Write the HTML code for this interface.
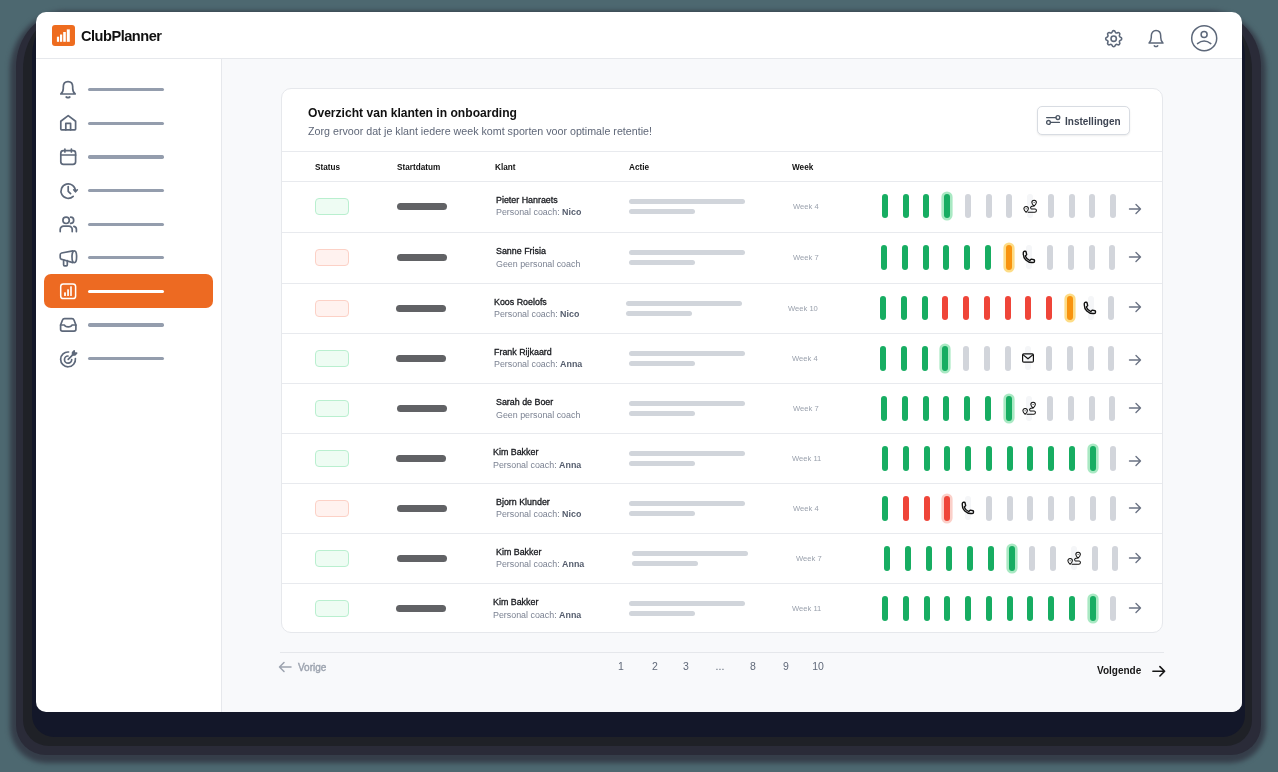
<!DOCTYPE html>
<html><head><meta charset="utf-8"><style>
*{margin:0;padding:0;box-sizing:border-box}
html,body{width:1278px;height:772px;overflow:hidden;background:#4d6870;font-family:"Liberation Sans",sans-serif}
.t{will-change:transform}
.abs{position:absolute}
.t{position:absolute;white-space:nowrap;line-height:1}
svg{position:absolute;overflow:visible}
.bar{position:absolute;width:6px;height:24.6px;border-radius:3px}
.g{background:#17ad62}.r{background:#ef4539}.o{background:#f8930f}.n{background:#d2d5db}
.f{background:#f5f6f8}
.hg{box-shadow:0 0 0 2.6px #a9e9c3}.ho{box-shadow:0 0 0 2.6px #fddc86}.hr{box-shadow:0 0 0 2.6px #fbd0c9}
</style></head><body>

<div class="abs" style="left:10px;top:11px;width:1256px;height:752px;border-radius:56px 56px 36px 36px/60px 60px 36px 36px;background:#353d49;filter:blur(2.5px)"></div>
<div class="abs" style="left:15.5px;top:12px;width:1245.5px;height:743px;border-radius:50px 50px 30px 30px/55px 55px 30px 30px;background:#2a2b38"></div>
<div class="abs" style="left:22.5px;top:14px;width:1229.5px;height:732px;border-radius:45px 45px 26px 26px/55px 55px 26px 26px;background:#1f2127"></div>
<div class="abs" style="left:32px;top:16px;width:1213px;height:721px;border-radius:30px 30px 22px 22px/40px 40px 22px 22px;background:#131729"></div>
<div class="abs" style="left:36px;top:12px;width:1206px;height:700px;border-radius:10px;background:#fff;overflow:hidden">
<div class="abs" style="left:186px;top:47px;width:1020px;height:653px;background:#f8f9fb"></div>
<div class="abs" style="left:0;top:46px;width:1206px;height:1px;background:#e6e8ec"></div>
<div class="abs" style="left:185px;top:47px;width:1px;height:653px;background:#e6e8ec"></div>
</div>
<div class="abs" style="left:52px;top:25px;width:23px;height:21px;border-radius:3px;background:#ee6c1f"></div>
<svg style="left:52px;top:25px" width="23" height="21" viewBox="0 0 23 21"><g fill="#fff"><rect x="4.9" y="11.7" width="2.2" height="5.1"/><rect x="8" y="9.5" width="2.2" height="7.3"/><rect x="11.2" y="7" width="2.6" height="9.8"/><rect x="14.8" y="4.4" width="3" height="12.4"/></g></svg>
<div class="t" style="left:81px;top:28.5px;font-size:14.6px;letter-spacing:-0.5px;font-weight:700;color:#111">ClubPlanner</div>
<svg style="left:1103.3px;top:28.3px" width="21.4" height="21.4" viewBox="0 0 24 24" fill="none" stroke="#5d687a" stroke-width="1.5" stroke-linecap="round" stroke-linejoin="round"><path d="M10.325 4.317c.426-1.756 2.924-1.756 3.35 0a1.724 1.724 0 002.573 1.066c1.543-.94 3.31.826 2.37 2.37a1.724 1.724 0 001.065 2.572c1.756.426 1.756 2.924 0 3.35a1.724 1.724 0 00-1.066 2.573c.94 1.543-.826 3.31-2.37 2.37a1.724 1.724 0 00-2.572 1.065c-.426 1.756-2.924 1.756-3.35 0a1.724 1.724 0 00-2.573-1.066c-1.543.94-3.31-.826-2.37-2.37a1.724 1.724 0 00-1.065-2.572c-1.756-.426-1.756-2.924 0-3.35a1.724 1.724 0 001.066-2.573c-.94-1.543.826-3.31 2.37-2.37.996.608 2.296.07 2.572-1.065z" stroke-width="1.8"/><circle cx="12" cy="12" r="3" stroke-width="1.8"/></svg>
<svg style="left:1146px;top:29px" width="20" height="20" viewBox="0 0 20 20" fill="none" stroke="#5d687a" stroke-width="1.5" stroke-linecap="round" stroke-linejoin="round"><path d="M3 14 C4.8 12.6 5.3 10.8 5.3 8.3 V6.8 C5.3 3.6 7.3 1.5 10 1.5 C12.7 1.5 14.7 3.6 14.7 6.8 V8.3 C14.7 10.8 15.2 12.6 17 14 Z"/><path d="M8.3 16.8 Q10 18.2 11.7 16.8"/></svg>
<svg style="left:1190px;top:24px" width="28" height="28" viewBox="0 0 28 28" fill="none" stroke="#5d687a" stroke-width="1.5" stroke-linecap="round" stroke-linejoin="round"><circle cx="14.2" cy="14.2" r="12.5"/><circle cx="14.1" cy="10.6" r="3"/><path d="M7.5 19.6 Q14.1 14.6 20.8 19.6"/></svg>
<div class="abs" style="left:88px;top:88.1px;width:76px;height:3.4px;border-radius:1.7px;background:#949dad"></div>
<div class="abs" style="left:88px;top:121.7px;width:76px;height:3.4px;border-radius:1.7px;background:#949dad"></div>
<div class="abs" style="left:88px;top:155.3px;width:76px;height:3.4px;border-radius:1.7px;background:#949dad"></div>
<div class="abs" style="left:88px;top:188.9px;width:76px;height:3.4px;border-radius:1.7px;background:#949dad"></div>
<div class="abs" style="left:88px;top:222.5px;width:76px;height:3.4px;border-radius:1.7px;background:#949dad"></div>
<div class="abs" style="left:88px;top:256.1px;width:76px;height:3.4px;border-radius:1.7px;background:#949dad"></div>
<div class="abs" style="left:43.5px;top:274px;width:169.5px;height:34px;border-radius:7px;background:#ed6a22"></div>
<div class="abs" style="left:88px;top:289.7px;width:76px;height:3.4px;border-radius:1.7px;background:#fff"></div>
<div class="abs" style="left:88px;top:323.3px;width:76px;height:3.4px;border-radius:1.7px;background:#949dad"></div>
<div class="abs" style="left:88px;top:356.9px;width:76px;height:3.4px;border-radius:1.7px;background:#949dad"></div>
<svg style="left:58px;top:79.7px" width="20" height="20" viewBox="0 0 20 20" fill="none" stroke="#5d687a" stroke-width="1.7" stroke-linecap="round" stroke-linejoin="round"><path d="M2.8 14 C4.8 12.5 5.3 10.7 5.3 8.2 V6.8 C5.3 3.5 7.3 1.6 10 1.6 C12.7 1.6 14.7 3.5 14.7 6.8 V8.2 C14.7 10.7 15.2 12.5 17.2 14 Z"/><path d="M8.2 17 Q10 18.4 11.8 17"/></svg>
<svg style="left:58px;top:113.3px" width="20" height="20" viewBox="0 0 20 20" fill="none" stroke="#5d687a" stroke-width="1.7" stroke-linecap="round" stroke-linejoin="round"><path d="M2.8 16 V8.2 L10.2 2.6 L17.6 8.2 V16 Q17.6 16.8 16.8 16.8 H3.6 Q2.8 16.8 2.8 16 Z"/><path d="M7.8 16.8 V10.4 H12.6 V16.8"/></svg>
<svg style="left:58px;top:146.9px" width="20" height="20" viewBox="0 0 20 20" fill="none" stroke="#5d687a" stroke-width="1.7" stroke-linecap="round" stroke-linejoin="round"><rect x="2.8" y="3.6" width="14.8" height="13.8" rx="2.6"/><path d="M6.9 2 V5 M13.4 2 V5 M2.8 8 H17.6"/></svg>
<svg style="left:58px;top:180.5px" width="20" height="20" viewBox="0 0 20 20" fill="none" stroke="#5d687a" stroke-width="1.7" stroke-linecap="round" stroke-linejoin="round"><path d="M15.2 15.3 A7.2 7.2 0 1 1 17.4 10.1"/><path d="M15.7 8.8 L17.5 10.8 L19.3 8.8"/><path d="M10.2 5.6 V10.3 L12.6 12.6"/></svg>
<svg style="left:58px;top:214.1px" width="20" height="20" viewBox="0 0 20 20" fill="none" stroke="#5d687a" stroke-width="1.7" stroke-linecap="round" stroke-linejoin="round"><circle cx="8.1" cy="6.3" r="3.2"/><path d="M12.6 3.2 A3.1 3.1 0 0 1 12.6 9.4"/><path d="M2.2 17.6 V15.6 A3.4 3.4 0 0 1 5.6 12.2 H10.8 A3.4 3.4 0 0 1 14.2 15.6 V17.6"/><path d="M15.9 12.4 A3 3 0 0 1 18.4 15.3 V17.6"/></svg>
<svg style="left:58px;top:247.7px" width="20" height="20" viewBox="0 0 20 20" fill="none" stroke="#5d687a" stroke-width="1.7" stroke-linecap="round" stroke-linejoin="round"><path d="M14.8 2.8 L3.6 5 Q2.2 5.3 2.2 6.8 V9.5 Q2.2 11 3.6 11.3 L14.8 14.6"/><ellipse cx="16.3" cy="8.7" rx="2.3" ry="5.9"/><path d="M5.6 11.8 V16.8 Q5.6 17.8 6.6 17.8 H8.3 Q9.3 17.8 9.3 16.8 V12.5"/></svg>
<svg style="left:58px;top:281px" width="20" height="20" viewBox="0 0 20 20" fill="none" stroke="#fff" stroke-width="1.5"><rect x="2.7" y="2.9" width="14.9" height="14.6" rx="2.6"/></svg>
<svg style="left:58px;top:281px" width="20" height="20" viewBox="0 0 20 20" fill="#fff"><rect x="6.1" y="11.3" width="1.8" height="3.6" rx=".5"/><rect x="9.2" y="8.3" width="1.7" height="6.6" rx=".5"/><rect x="12.2" y="5.3" width="1.6" height="9.6" rx=".5"/></svg>
<svg style="left:58px;top:314.9px" width="20" height="20" viewBox="0 0 20 20" fill="none" stroke="#5d687a" stroke-width="1.7" stroke-linecap="round" stroke-linejoin="round"><path d="M2.6 10 L4.4 5.2 Q5 3.7 6.5 3.7 H14 Q15.5 3.7 16.1 5.2 L17.9 10 V14.3 Q17.9 16.2 16 16.2 H4.5 Q2.6 16.2 2.6 14.3 Z"/><path d="M2.6 10 H6.4 Q7 11.8 10.2 11.8 Q13.4 11.8 14 10 H17.9"/></svg>
<svg style="left:58px;top:348.5px" width="20" height="20" viewBox="0 0 20 20" fill="none" stroke="#5d687a" stroke-width="1.7" stroke-linecap="round" stroke-linejoin="round"><path d="M17.4 9.6 A7.4 7.4 0 1 1 10.6 3"/><path d="M13.7 10.6 A3.6 3.6 0 1 1 10 7"/><path d="M10.2 10.4 L16.2 4.4"/><path d="M14.6 3.6 V5.9 H16.9 L18.6 4.2 H16.2 V1.9 Z"/></svg>
<div class="abs" style="left:281px;top:88px;width:882px;height:545px;border:1px solid #e6e8ec;border-radius:10px;background:#fff"></div>
<div class="t" style="left:308px;top:107px;font-size:12.1px;font-weight:700;color:#111">Overzicht van klanten in onboarding</div>
<div class="t" style="left:308px;top:126.2px;font-size:10.7px;color:#5f6778">Zorg ervoor dat je klant iedere week komt sporten voor optimale retentie!</div>
<div class="abs" style="left:1037px;top:106px;width:93px;height:28.5px;border:1px solid #d8dce2;border-radius:5px;background:#fff;box-shadow:0 1px 2px rgba(0,0,0,.08)"></div>
<svg style="left:1045px;top:112.2px" width="16" height="16" viewBox="0 0 16 16" fill="none" stroke="#4b5563" stroke-width="1.3" stroke-linecap="round"><path d="M1.6 5.6 H10.8"/><circle cx="12.9" cy="5.6" r="1.9"/><circle cx="3.5" cy="10.4" r="1.9"/><path d="M5.4 10.4 H14.4"/></svg>
<div class="t" style="left:1065px;top:116.6px;font-size:10px;font-weight:700;color:#3d4452">Instellingen</div>
<div class="abs" style="left:282px;top:151px;width:880px;height:1px;background:#e8eaee"></div>
<div class="abs" style="left:282px;top:181px;width:880px;height:1px;background:#e8eaee"></div>
<div class="abs" style="left:282px;top:232px;width:880px;height:1px;background:#e8eaee"></div>
<div class="abs" style="left:282px;top:283px;width:880px;height:1px;background:#e8eaee"></div>
<div class="abs" style="left:282px;top:333px;width:880px;height:1px;background:#e8eaee"></div>
<div class="abs" style="left:282px;top:383px;width:880px;height:1px;background:#e8eaee"></div>
<div class="abs" style="left:282px;top:433px;width:880px;height:1px;background:#e8eaee"></div>
<div class="abs" style="left:282px;top:483px;width:880px;height:1px;background:#e8eaee"></div>
<div class="abs" style="left:282px;top:533px;width:880px;height:1px;background:#e8eaee"></div>
<div class="abs" style="left:282px;top:583px;width:880px;height:1px;background:#e8eaee"></div>
<div class="t" style="left:315px;top:164px;font-size:8.2px;font-weight:700;color:#111">Status</div>
<div class="t" style="left:397px;top:164px;font-size:8.2px;font-weight:700;color:#111">Startdatum</div>
<div class="t" style="left:495px;top:164px;font-size:8.2px;font-weight:700;color:#111">Klant</div>
<div class="t" style="left:629px;top:164px;font-size:8.2px;font-weight:700;color:#111">Actie</div>
<div class="t" style="left:792px;top:164px;font-size:8.2px;font-weight:700;color:#111">Week</div>
<div class="abs" style="left:315px;top:197.5px;width:34px;height:17px;border-radius:4px;background:#eefcf3;border:1px solid #b9efcf"></div>
<div class="abs" style="left:397.0px;top:202.5px;width:50px;height:7px;border-radius:3.5px;background:#616265"></div>
<div class="t" style="left:495.5px;top:195.8px;font-size:8.9px;color:#16181d;-webkit-text-stroke:0.3px #16181d">Pieter Hanraets</div>
<div class="t" style="left:495.5px;top:208.1px;font-size:8.9px;color:#7b8292">Personal coach: <b style="color:#555d6d">Nico</b></div>
<div class="abs" style="left:629.0px;top:198.5px;width:116px;height:5px;border-radius:2.5px;background:#d1d5db"></div>
<div class="abs" style="left:629.0px;top:208.5px;width:66px;height:5px;border-radius:2.5px;background:#d1d5db"></div>
<div class="t" style="left:792.7px;top:202.5px;font-size:7.6px;color:#9aa1ad">Week 4</div>
<div class="bar g" style="left:881.8px;top:193.7px"></div>
<div class="bar g" style="left:902.5px;top:193.7px"></div>
<div class="bar g" style="left:923.3px;top:193.7px"></div>
<div class="bar g hg" style="left:944.0px;top:193.7px"></div>
<div class="bar n" style="left:964.8px;top:193.7px"></div>
<div class="bar n" style="left:985.5px;top:193.7px"></div>
<div class="bar n" style="left:1006.3px;top:193.7px"></div>
<div class="bar f" style="left:1027.0px;top:193.5px"></div>
<svg style="left:1022.1px;top:198.9px" width="15" height="15" viewBox="0 0 16 16" fill="none" stroke="#111" stroke-width="1.1" stroke-linecap="round" stroke-linejoin="round"><path d="M4.4 14.2 C2.6 12.5 2 11.5 2 10.4 A2.4 2.4 0 0 1 6.8 10.4 C6.8 11.5 6.2 12.5 4.4 14.2 Z"/><circle cx="4.4" cy="10.4" r=".55" fill="#111" stroke="none"/><path d="M12.9 7.5 C11.1 5.8 10.5 4.8 10.5 3.7 A2.4 2.4 0 0 1 15.3 3.7 C15.3 4.8 14.7 5.8 12.9 7.5 Z"/><circle cx="12.9" cy="3.7" r=".55" fill="#111" stroke="none"/><path d="M12.4 7.5 C9.6 7.7 8.4 8.8 9.6 10.2 Q10 10.6 10.9 10.6 H14 Q15.5 10.8 15.4 12.4 Q15.2 14.2 13.5 14.2 H6.5"/></svg>
<div class="bar n" style="left:1047.8px;top:193.7px"></div>
<div class="bar n" style="left:1068.5px;top:193.7px"></div>
<div class="bar n" style="left:1089.3px;top:193.7px"></div>
<div class="bar n" style="left:1110.0px;top:193.7px"></div>
<svg style="left:1128.0px;top:201.5px" width="14" height="14" viewBox="0 0 14 14" fill="none" stroke="#6b7384" stroke-width="1.4" stroke-linecap="round" stroke-linejoin="round"><path d="M1.5 7 H12.5 M8 2.5 L12.5 7 L8 11.5"/></svg>
<div class="abs" style="left:315px;top:248.9px;width:34px;height:17px;border-radius:4px;background:#fff2ef;border:1px solid #fcd1c6"></div>
<div class="abs" style="left:397.0px;top:253.9px;width:50px;height:7px;border-radius:3.5px;background:#616265"></div>
<div class="t" style="left:495.5px;top:247.2px;font-size:8.9px;color:#16181d;-webkit-text-stroke:0.3px #16181d">Sanne Frisia</div>
<div class="t" style="left:495.5px;top:259.5px;font-size:8.9px;color:#7b8292">Geen personal coach</div>
<div class="abs" style="left:629.0px;top:249.9px;width:116px;height:5px;border-radius:2.5px;background:#d1d5db"></div>
<div class="abs" style="left:629.0px;top:259.9px;width:66px;height:5px;border-radius:2.5px;background:#d1d5db"></div>
<div class="t" style="left:792.7px;top:253.9px;font-size:7.6px;color:#9aa1ad">Week 7</div>
<div class="bar g" style="left:881.0px;top:245.1px"></div>
<div class="bar g" style="left:901.8px;top:245.1px"></div>
<div class="bar g" style="left:922.5px;top:245.1px"></div>
<div class="bar g" style="left:943.2px;top:245.1px"></div>
<div class="bar g" style="left:964.0px;top:245.1px"></div>
<div class="bar g" style="left:984.8px;top:245.1px"></div>
<div class="bar o ho" style="left:1005.5px;top:245.1px"></div>
<div class="bar f" style="left:1026.2px;top:244.9px"></div>
<svg style="left:1021.9px;top:250.4px" width="13.8" height="13.8" viewBox="0 0 24 24" fill="none" stroke="#111" stroke-width="2.4" stroke-linejoin="round"><path d="M2.25 6.75c0 8.284 6.716 15 15 15h2.25a2.25 2.25 0 002.25-2.25v-1.372c0-.516-.351-.966-.852-1.091l-4.423-1.106c-.44-.11-.902.055-1.173.417l-.97 1.293c-.282.376-.769.542-1.21.38a12.035 12.035 0 01-7.143-7.143c-.162-.441.004-.928.38-1.21l1.293-.97c.363-.271.527-.734.417-1.173L6.963 3.102a1.125 1.125 0 00-1.091-.852H4.5A2.25 2.25 0 002.25 4.5v2.25z"/></svg>
<div class="bar n" style="left:1047.0px;top:245.1px"></div>
<div class="bar n" style="left:1067.8px;top:245.1px"></div>
<div class="bar n" style="left:1088.5px;top:245.1px"></div>
<div class="bar n" style="left:1109.2px;top:245.1px"></div>
<svg style="left:1127.5px;top:249.9px" width="14" height="14" viewBox="0 0 14 14" fill="none" stroke="#6b7384" stroke-width="1.4" stroke-linecap="round" stroke-linejoin="round"><path d="M1.5 7 H12.5 M8 2.5 L12.5 7 L8 11.5"/></svg>
<div class="abs" style="left:315px;top:299.7px;width:34px;height:17px;border-radius:4px;background:#fff2ef;border:1px solid #fcd1c6"></div>
<div class="abs" style="left:396.4px;top:304.7px;width:50px;height:7px;border-radius:3.5px;background:#616265"></div>
<div class="t" style="left:493.5px;top:298.0px;font-size:8.9px;color:#16181d;-webkit-text-stroke:0.3px #16181d">Koos Roelofs</div>
<div class="t" style="left:493.5px;top:310.3px;font-size:8.9px;color:#7b8292">Personal coach: <b style="color:#555d6d">Nico</b></div>
<div class="abs" style="left:625.8px;top:300.7px;width:116px;height:5px;border-radius:2.5px;background:#d1d5db"></div>
<div class="abs" style="left:625.8px;top:310.7px;width:66px;height:5px;border-radius:2.5px;background:#d1d5db"></div>
<div class="t" style="left:788.4px;top:304.7px;font-size:7.6px;color:#9aa1ad">Week 10</div>
<div class="bar g" style="left:880.0px;top:295.9px"></div>
<div class="bar g" style="left:900.8px;top:295.9px"></div>
<div class="bar g" style="left:921.5px;top:295.9px"></div>
<div class="bar r" style="left:942.2px;top:295.9px"></div>
<div class="bar r" style="left:963.0px;top:295.9px"></div>
<div class="bar r" style="left:983.8px;top:295.9px"></div>
<div class="bar r" style="left:1004.5px;top:295.9px"></div>
<div class="bar r" style="left:1025.2px;top:295.9px"></div>
<div class="bar r" style="left:1046.0px;top:295.9px"></div>
<div class="bar o ho" style="left:1066.8px;top:295.9px"></div>
<div class="bar f" style="left:1087.5px;top:295.7px"></div>
<svg style="left:1083.1px;top:301.2px" width="13.8" height="13.8" viewBox="0 0 24 24" fill="none" stroke="#111" stroke-width="2.4" stroke-linejoin="round"><path d="M2.25 6.75c0 8.284 6.716 15 15 15h2.25a2.25 2.25 0 002.25-2.25v-1.372c0-.516-.351-.966-.852-1.091l-4.423-1.106c-.44-.11-.902.055-1.173.417l-.97 1.293c-.282.376-.769.542-1.21.38a12.035 12.035 0 01-7.143-7.143c-.162-.441.004-.928.38-1.21l1.293-.97c.363-.271.527-.734.417-1.173L6.963 3.102a1.125 1.125 0 00-1.091-.852H4.5A2.25 2.25 0 002.25 4.5v2.25z"/></svg>
<div class="bar n" style="left:1108.2px;top:295.9px"></div>
<svg style="left:1127.5px;top:300.2px" width="14" height="14" viewBox="0 0 14 14" fill="none" stroke="#6b7384" stroke-width="1.4" stroke-linecap="round" stroke-linejoin="round"><path d="M1.5 7 H12.5 M8 2.5 L12.5 7 L8 11.5"/></svg>
<div class="abs" style="left:315px;top:349.8px;width:34px;height:17px;border-radius:4px;background:#eefcf3;border:1px solid #b9efcf"></div>
<div class="abs" style="left:396.0px;top:354.8px;width:50px;height:7px;border-radius:3.5px;background:#616265"></div>
<div class="t" style="left:493.5px;top:348.1px;font-size:8.9px;color:#16181d;-webkit-text-stroke:0.3px #16181d">Frank Rijkaard</div>
<div class="t" style="left:493.5px;top:360.4px;font-size:8.9px;color:#7b8292">Personal coach: <b style="color:#555d6d">Anna</b></div>
<div class="abs" style="left:629.0px;top:350.8px;width:116px;height:5px;border-radius:2.5px;background:#d1d5db"></div>
<div class="abs" style="left:629.0px;top:360.8px;width:66px;height:5px;border-radius:2.5px;background:#d1d5db"></div>
<div class="t" style="left:791.8px;top:354.8px;font-size:7.6px;color:#9aa1ad">Week 4</div>
<div class="bar g" style="left:880.0px;top:346.0px"></div>
<div class="bar g" style="left:900.8px;top:346.0px"></div>
<div class="bar g" style="left:921.5px;top:346.0px"></div>
<div class="bar g hg" style="left:942.2px;top:346.0px"></div>
<div class="bar n" style="left:963.0px;top:346.0px"></div>
<div class="bar n" style="left:983.8px;top:346.0px"></div>
<div class="bar n" style="left:1004.5px;top:346.0px"></div>
<div class="bar f" style="left:1025.2px;top:345.8px"></div>
<svg style="left:1021.2px;top:351.3px" width="14" height="14" viewBox="0 0 14 14" fill="none" stroke="#111" stroke-width="1.2" stroke-linejoin="round"><rect x="1.6" y="2.9" width="10.8" height="8.2" rx="1.2"/><path d="M1.9 3.6 L7 7.8 L12.1 3.6"/></svg>
<div class="bar n" style="left:1046.0px;top:346.0px"></div>
<div class="bar n" style="left:1066.8px;top:346.0px"></div>
<div class="bar n" style="left:1087.5px;top:346.0px"></div>
<div class="bar n" style="left:1108.2px;top:346.0px"></div>
<svg style="left:1127.5px;top:352.6px" width="14" height="14" viewBox="0 0 14 14" fill="none" stroke="#6b7384" stroke-width="1.4" stroke-linecap="round" stroke-linejoin="round"><path d="M1.5 7 H12.5 M8 2.5 L12.5 7 L8 11.5"/></svg>
<div class="abs" style="left:315px;top:400.0px;width:34px;height:17px;border-radius:4px;background:#eefcf3;border:1px solid #b9efcf"></div>
<div class="abs" style="left:397.4px;top:405.0px;width:50px;height:7px;border-radius:3.5px;background:#616265"></div>
<div class="t" style="left:495.5px;top:398.3px;font-size:8.9px;color:#16181d;-webkit-text-stroke:0.3px #16181d">Sarah de Boer</div>
<div class="t" style="left:495.5px;top:410.6px;font-size:8.9px;color:#7b8292">Geen personal coach</div>
<div class="abs" style="left:629.0px;top:401.0px;width:116px;height:5px;border-radius:2.5px;background:#d1d5db"></div>
<div class="abs" style="left:629.0px;top:411.0px;width:66px;height:5px;border-radius:2.5px;background:#d1d5db"></div>
<div class="t" style="left:792.6px;top:405.0px;font-size:7.6px;color:#9aa1ad">Week 7</div>
<div class="bar g" style="left:881.0px;top:396.2px"></div>
<div class="bar g" style="left:901.8px;top:396.2px"></div>
<div class="bar g" style="left:922.5px;top:396.2px"></div>
<div class="bar g" style="left:943.2px;top:396.2px"></div>
<div class="bar g" style="left:964.0px;top:396.2px"></div>
<div class="bar g" style="left:984.8px;top:396.2px"></div>
<div class="bar g hg" style="left:1005.5px;top:396.2px"></div>
<div class="bar f" style="left:1026.2px;top:396.0px"></div>
<svg style="left:1021.4px;top:401.4px" width="15" height="15" viewBox="0 0 16 16" fill="none" stroke="#111" stroke-width="1.1" stroke-linecap="round" stroke-linejoin="round"><path d="M4.4 14.2 C2.6 12.5 2 11.5 2 10.4 A2.4 2.4 0 0 1 6.8 10.4 C6.8 11.5 6.2 12.5 4.4 14.2 Z"/><circle cx="4.4" cy="10.4" r=".55" fill="#111" stroke="none"/><path d="M12.9 7.5 C11.1 5.8 10.5 4.8 10.5 3.7 A2.4 2.4 0 0 1 15.3 3.7 C15.3 4.8 14.7 5.8 12.9 7.5 Z"/><circle cx="12.9" cy="3.7" r=".55" fill="#111" stroke="none"/><path d="M12.4 7.5 C9.6 7.7 8.4 8.8 9.6 10.2 Q10 10.6 10.9 10.6 H14 Q15.5 10.8 15.4 12.4 Q15.2 14.2 13.5 14.2 H6.5"/></svg>
<div class="bar n" style="left:1047.0px;top:396.2px"></div>
<div class="bar n" style="left:1067.8px;top:396.2px"></div>
<div class="bar n" style="left:1088.5px;top:396.2px"></div>
<div class="bar n" style="left:1109.2px;top:396.2px"></div>
<svg style="left:1127.5px;top:400.8px" width="14" height="14" viewBox="0 0 14 14" fill="none" stroke="#6b7384" stroke-width="1.4" stroke-linecap="round" stroke-linejoin="round"><path d="M1.5 7 H12.5 M8 2.5 L12.5 7 L8 11.5"/></svg>
<div class="abs" style="left:315px;top:450.0px;width:34px;height:17px;border-radius:4px;background:#eefcf3;border:1px solid #b9efcf"></div>
<div class="abs" style="left:396.0px;top:455.0px;width:50px;height:7px;border-radius:3.5px;background:#616265"></div>
<div class="t" style="left:493.3px;top:448.3px;font-size:8.9px;color:#16181d;-webkit-text-stroke:0.3px #16181d">Kim Bakker</div>
<div class="t" style="left:493.3px;top:460.6px;font-size:8.9px;color:#7b8292">Personal coach: <b style="color:#555d6d">Anna</b></div>
<div class="abs" style="left:629.0px;top:451.0px;width:116px;height:5px;border-radius:2.5px;background:#d1d5db"></div>
<div class="abs" style="left:629.0px;top:461.0px;width:66px;height:5px;border-radius:2.5px;background:#d1d5db"></div>
<div class="t" style="left:791.8px;top:455.0px;font-size:7.6px;color:#9aa1ad">Week 11</div>
<div class="bar g" style="left:882.0px;top:446.2px"></div>
<div class="bar g" style="left:902.8px;top:446.2px"></div>
<div class="bar g" style="left:923.5px;top:446.2px"></div>
<div class="bar g" style="left:944.2px;top:446.2px"></div>
<div class="bar g" style="left:965.0px;top:446.2px"></div>
<div class="bar g" style="left:985.8px;top:446.2px"></div>
<div class="bar g" style="left:1006.5px;top:446.2px"></div>
<div class="bar g" style="left:1027.2px;top:446.2px"></div>
<div class="bar g" style="left:1048.0px;top:446.2px"></div>
<div class="bar g" style="left:1068.8px;top:446.2px"></div>
<div class="bar g hg" style="left:1089.5px;top:446.2px"></div>
<div class="bar n" style="left:1110.2px;top:446.2px"></div>
<svg style="left:1127.5px;top:453.5px" width="14" height="14" viewBox="0 0 14 14" fill="none" stroke="#6b7384" stroke-width="1.4" stroke-linecap="round" stroke-linejoin="round"><path d="M1.5 7 H12.5 M8 2.5 L12.5 7 L8 11.5"/></svg>
<div class="abs" style="left:315px;top:499.8px;width:34px;height:17px;border-radius:4px;background:#fff2ef;border:1px solid #fcd1c6"></div>
<div class="abs" style="left:397.4px;top:504.8px;width:50px;height:7px;border-radius:3.5px;background:#616265"></div>
<div class="t" style="left:495.5px;top:498.1px;font-size:8.9px;color:#16181d;-webkit-text-stroke:0.3px #16181d">Bjorn Klunder</div>
<div class="t" style="left:495.5px;top:510.4px;font-size:8.9px;color:#7b8292">Personal coach: <b style="color:#555d6d">Nico</b></div>
<div class="abs" style="left:629.0px;top:500.8px;width:116px;height:5px;border-radius:2.5px;background:#d1d5db"></div>
<div class="abs" style="left:629.0px;top:510.8px;width:66px;height:5px;border-radius:2.5px;background:#d1d5db"></div>
<div class="t" style="left:792.6px;top:504.8px;font-size:7.6px;color:#9aa1ad">Week 4</div>
<div class="bar g" style="left:882.0px;top:496.0px"></div>
<div class="bar r" style="left:902.8px;top:496.0px"></div>
<div class="bar r" style="left:923.5px;top:496.0px"></div>
<div class="bar r hr" style="left:944.2px;top:496.0px"></div>
<div class="bar f" style="left:965.0px;top:495.8px"></div>
<svg style="left:960.6px;top:501.3px" width="13.8" height="13.8" viewBox="0 0 24 24" fill="none" stroke="#111" stroke-width="2.4" stroke-linejoin="round"><path d="M2.25 6.75c0 8.284 6.716 15 15 15h2.25a2.25 2.25 0 002.25-2.25v-1.372c0-.516-.351-.966-.852-1.091l-4.423-1.106c-.44-.11-.902.055-1.173.417l-.97 1.293c-.282.376-.769.542-1.21.38a12.035 12.035 0 01-7.143-7.143c-.162-.441.004-.928.38-1.21l1.293-.97c.363-.271.527-.734.417-1.173L6.963 3.102a1.125 1.125 0 00-1.091-.852H4.5A2.25 2.25 0 002.25 4.5v2.25z"/></svg>
<div class="bar n" style="left:985.8px;top:496.0px"></div>
<div class="bar n" style="left:1006.5px;top:496.0px"></div>
<div class="bar n" style="left:1027.2px;top:496.0px"></div>
<div class="bar n" style="left:1048.0px;top:496.0px"></div>
<div class="bar n" style="left:1068.8px;top:496.0px"></div>
<div class="bar n" style="left:1089.5px;top:496.0px"></div>
<div class="bar n" style="left:1110.2px;top:496.0px"></div>
<svg style="left:1127.5px;top:500.8px" width="14" height="14" viewBox="0 0 14 14" fill="none" stroke="#6b7384" stroke-width="1.4" stroke-linecap="round" stroke-linejoin="round"><path d="M1.5 7 H12.5 M8 2.5 L12.5 7 L8 11.5"/></svg>
<div class="abs" style="left:315px;top:549.8px;width:34px;height:17px;border-radius:4px;background:#eefcf3;border:1px solid #b9efcf"></div>
<div class="abs" style="left:397.4px;top:554.8px;width:50px;height:7px;border-radius:3.5px;background:#616265"></div>
<div class="t" style="left:495.5px;top:548.1px;font-size:8.9px;color:#16181d;-webkit-text-stroke:0.3px #16181d">Kim Bakker</div>
<div class="t" style="left:495.5px;top:560.4px;font-size:8.9px;color:#7b8292">Personal coach: <b style="color:#555d6d">Anna</b></div>
<div class="abs" style="left:632.2px;top:550.8px;width:116px;height:5px;border-radius:2.5px;background:#d1d5db"></div>
<div class="abs" style="left:632.2px;top:560.8px;width:66px;height:5px;border-radius:2.5px;background:#d1d5db"></div>
<div class="t" style="left:795.7px;top:554.8px;font-size:7.6px;color:#9aa1ad">Week 7</div>
<div class="bar g" style="left:884.0px;top:546.0px"></div>
<div class="bar g" style="left:904.8px;top:546.0px"></div>
<div class="bar g" style="left:925.5px;top:546.0px"></div>
<div class="bar g" style="left:946.2px;top:546.0px"></div>
<div class="bar g" style="left:967.0px;top:546.0px"></div>
<div class="bar g" style="left:987.8px;top:546.0px"></div>
<div class="bar g hg" style="left:1008.5px;top:546.0px"></div>
<div class="bar n" style="left:1029.2px;top:546.0px"></div>
<div class="bar n" style="left:1050.0px;top:546.0px"></div>
<div class="bar f" style="left:1070.8px;top:545.8px"></div>
<svg style="left:1065.8px;top:551.2px" width="15" height="15" viewBox="0 0 16 16" fill="none" stroke="#111" stroke-width="1.1" stroke-linecap="round" stroke-linejoin="round"><path d="M4.4 14.2 C2.6 12.5 2 11.5 2 10.4 A2.4 2.4 0 0 1 6.8 10.4 C6.8 11.5 6.2 12.5 4.4 14.2 Z"/><circle cx="4.4" cy="10.4" r=".55" fill="#111" stroke="none"/><path d="M12.9 7.5 C11.1 5.8 10.5 4.8 10.5 3.7 A2.4 2.4 0 0 1 15.3 3.7 C15.3 4.8 14.7 5.8 12.9 7.5 Z"/><circle cx="12.9" cy="3.7" r=".55" fill="#111" stroke="none"/><path d="M12.4 7.5 C9.6 7.7 8.4 8.8 9.6 10.2 Q10 10.6 10.9 10.6 H14 Q15.5 10.8 15.4 12.4 Q15.2 14.2 13.5 14.2 H6.5"/></svg>
<div class="bar n" style="left:1091.5px;top:546.0px"></div>
<div class="bar n" style="left:1112.2px;top:546.0px"></div>
<svg style="left:1127.5px;top:550.8px" width="14" height="14" viewBox="0 0 14 14" fill="none" stroke="#6b7384" stroke-width="1.4" stroke-linecap="round" stroke-linejoin="round"><path d="M1.5 7 H12.5 M8 2.5 L12.5 7 L8 11.5"/></svg>
<div class="abs" style="left:315px;top:599.9px;width:34px;height:17px;border-radius:4px;background:#eefcf3;border:1px solid #b9efcf"></div>
<div class="abs" style="left:396.0px;top:604.9px;width:50px;height:7px;border-radius:3.5px;background:#616265"></div>
<div class="t" style="left:493.3px;top:598.2px;font-size:8.9px;color:#16181d;-webkit-text-stroke:0.3px #16181d">Kim Bakker</div>
<div class="t" style="left:493.3px;top:610.5px;font-size:8.9px;color:#7b8292">Personal coach: <b style="color:#555d6d">Anna</b></div>
<div class="abs" style="left:629.0px;top:600.9px;width:116px;height:5px;border-radius:2.5px;background:#d1d5db"></div>
<div class="abs" style="left:629.0px;top:610.9px;width:66px;height:5px;border-radius:2.5px;background:#d1d5db"></div>
<div class="t" style="left:791.8px;top:604.9px;font-size:7.6px;color:#9aa1ad">Week 11</div>
<div class="bar g" style="left:882.0px;top:596.1px"></div>
<div class="bar g" style="left:902.8px;top:596.1px"></div>
<div class="bar g" style="left:923.5px;top:596.1px"></div>
<div class="bar g" style="left:944.2px;top:596.1px"></div>
<div class="bar g" style="left:965.0px;top:596.1px"></div>
<div class="bar g" style="left:985.8px;top:596.1px"></div>
<div class="bar g" style="left:1006.5px;top:596.1px"></div>
<div class="bar g" style="left:1027.2px;top:596.1px"></div>
<div class="bar g" style="left:1048.0px;top:596.1px"></div>
<div class="bar g" style="left:1068.8px;top:596.1px"></div>
<div class="bar g hg" style="left:1089.5px;top:596.1px"></div>
<div class="bar n" style="left:1110.2px;top:596.1px"></div>
<svg style="left:1127.5px;top:600.6px" width="14" height="14" viewBox="0 0 14 14" fill="none" stroke="#6b7384" stroke-width="1.4" stroke-linecap="round" stroke-linejoin="round"><path d="M1.5 7 H12.5 M8 2.5 L12.5 7 L8 11.5"/></svg>
<div class="abs" style="left:280px;top:652px;width:884px;height:1px;background:#e5e7eb"></div>
<svg style="left:278px;top:660px" width="14" height="14" viewBox="0 0 14 14" fill="none" stroke="#9ca3af" stroke-width="1.5" stroke-linecap="round" stroke-linejoin="round"><path d="M13 7 H1.5 M6 2.5 L1.5 7 L6 11.5"/></svg>
<div class="t" style="left:297.5px;top:662.5px;font-size:10px;color:#9ca3af;-webkit-text-stroke:0.4px #9ca3af">Vorige</div>
<div class="t" style="left:605.7px;top:661px;width:30px;text-align:center;font-size:10.5px;color:#606979">1</div>
<div class="t" style="left:639.5px;top:661px;width:30px;text-align:center;font-size:10.5px;color:#606979">2</div>
<div class="t" style="left:671.4px;top:661px;width:30px;text-align:center;font-size:10.5px;color:#606979">3</div>
<div class="t" style="left:705.2px;top:661px;width:30px;text-align:center;font-size:10.5px;color:#606979">...</div>
<div class="t" style="left:738.4px;top:661px;width:30px;text-align:center;font-size:10.5px;color:#606979">8</div>
<div class="t" style="left:771.3px;top:661px;width:30px;text-align:center;font-size:10.5px;color:#606979">9</div>
<div class="t" style="left:803.2px;top:661px;width:30px;text-align:center;font-size:10.5px;color:#606979">10</div>
<div class="t" style="left:1096.5px;top:666.2px;font-size:10px;font-weight:700;color:#161616">Volgende</div>
<svg style="left:1151px;top:664px" width="15" height="15" viewBox="0 0 15 15" fill="none" stroke="#161616" stroke-width="1.6" stroke-linecap="round" stroke-linejoin="round"><path d="M1.9 7.3 H13.6 M8.9 2.6 L13.6 7.3 L8.9 12"/></svg>
</body></html>
